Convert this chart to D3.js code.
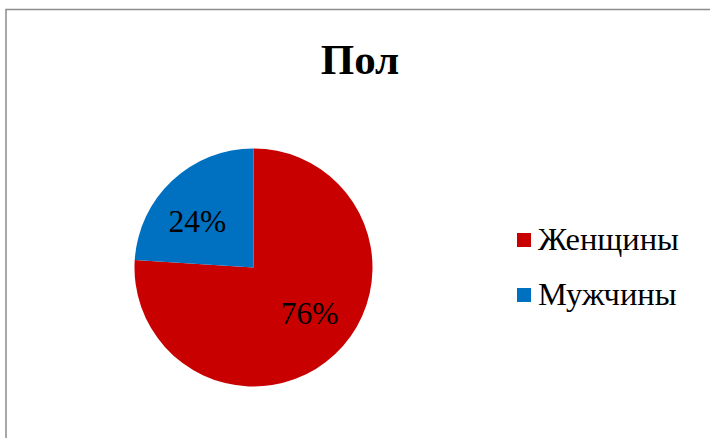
<!DOCTYPE html>
<html>
<head>
<meta charset="utf-8">
<script src="https://cdn.jsdelivr.net/npm/d3@7"></script>
<style>
  body { margin: 0; background: #fff; }
  svg { display: block; }
</style>
</head>
<body>
<svg id="chart"></svg>
<script>
    'use strict';

    var categories = ["Женщины", "Мужчины"];
    var values = [76, 24];
    var colors = ["#C80000", "#0070C0"];
    var title = "Пол";

    var width = 710, height = 438;
    var serif = "'Liberation Serif', 'Times New Roman', serif";

    var svg = d3.select("#chart")
        .attr("width", width)
        .attr("height", height);

    // chart frame (only top and left edges are visible)
    svg.append("path")
        .attr("d", "M6,440 L6,9.5 L712,9.5")
        .attr("fill", "none")
        .attr("stroke", "#8c8c8c")
        .attr("stroke-width", 1.5);

    // title
    svg.append("text")
        .attr("x", 360)
        .attr("y", 74)
        .attr("text-anchor", "middle")
        .style("font-family", serif)
        .style("font-size", "43px")
        .style("font-weight", "bold")
        .text(title);

    var radius = 119;
    var data = categories.map(function (c, i) {
        return { name: c, value: values[i] };
    });

    var color = d3.scaleOrdinal().domain(categories).range(colors);

    var pie = d3.pie()
        .sort(null)
        .value(function (d) { return d.value; });

    var arc = d3.arc().innerRadius(0).outerRadius(radius);

    // labels sit a little counter-clockwise of the slice middle
    var labelR = 72.5, labelShift = -0.13;
    function labelPos(d) {
        var a = (d.startAngle + d.endAngle) / 2 + labelShift;
        return [labelR * Math.sin(a), -labelR * Math.cos(a)];
    }

    var g = svg.append("g")
        .attr("transform", "translate(253.5,267.5)");

    var slices = g.selectAll(".slice")
        .data(pie(data))
        .enter().append("g")
        .attr("class", "slice");

    slices.append("path")
        .attr("d", arc)
        .attr("fill", function (d) { return color(d.data.name); });

    slices.append("text")
        .attr("transform", function (d) { return "translate(" + labelPos(d) + ")"; })
        .attr("dy", "0.34em")
        .attr("text-anchor", "middle")
        .style("font-family", serif)
        .style("font-size", "31.5px")
        .attr("fill", "#000")
        .text(function (d) {
            var total = d3.sum(values);
            return Math.round(d.data.value / total * 100) + "%";
        });

    // legend
    var legendY = d3.scalePoint().domain(categories).range([250, 305]);

    var legend = svg.selectAll(".legend")
        .data(categories)
        .enter().append("g")
        .attr("class", "legend");

    legend.append("rect")
        .attr("x", 517)
        .attr("y", function (d) { return legendY(d) - 17; })
        .attr("width", 14)
        .attr("height", 14)
        .attr("fill", function (d) { return color(d); });

    legend.append("text")
        .attr("x", 538)
        .attr("y", function (d) { return legendY(d); })
        .style("font-family", serif)
        .style("font-size", "32.5px")
        .attr("fill", "#000")
        .text(function (d) { return d; });
</script>
</body>
</html>
